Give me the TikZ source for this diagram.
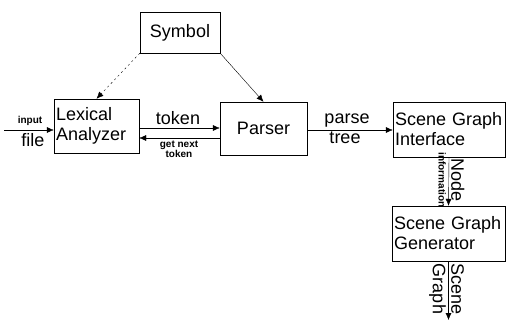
\documentclass[tikz,border=0pt]{standalone}
\usepackage{fontspec}
\setmainfont{Liberation Sans}
\usetikzlibrary{arrows.meta}

\tikzset{
    block/.style={draw, thin, rectangle, inner xsep=2pt, inner ysep=3pt, align=left,
        font=\fontsize{18}{20}\selectfont},
    lbl/.style={inner sep=1pt, font=\fontsize{18}{19}\selectfont},
    tiny/.style={inner sep=1pt, font=\fontsize{10}{10}\selectfont\bfseries}
}

\begin{document}
\begin{tikzpicture}[x=1pt,y=-1pt,>={Latex[length=7pt,width=6pt]}]
    \useasboundingbox (0,0) rectangle (508,323);
    % boxes
    \node[block, minimum width=80pt, minimum height=41pt, align=center] (sym) at (180,32.5) {Symbol};
    \node[block, minimum width=85pt, minimum height=54pt, text width=81pt] (lex) at (96.5,126) {Lexical\\Analyzer};
    \node[block, minimum width=87pt, minimum height=53pt, align=center] (parser) at (263.5,128.5) {Parser};
    \node[block, minimum width=112pt, minimum height=55pt, text width=108pt] (sgi) at (449,129.5) {Scene Graph\\Interface};
    \node[block, minimum width=113pt, minimum height=55pt, text width=109pt] (sgg) at (448.5,233.5) {Scene Graph\\Generator};
    % free ends
    \coordinate (src) at (4,130);
    \coordinate (out) at (448.5,320);
    % connectors
    \draw[->, thin, dash pattern=on 2pt off 3pt] (sym.south west) -- (lex.north);
    \draw[->, thin] (sym.south east) -- (parser.north);
    \draw[->, thin] (src) -- (lex.west |- src);
    \draw[->, thin] (lex.east |- 0,128) -- (parser.west |- 0,128);
    \draw[->, thin] (parser.west |- 0,138) -- (lex.east |- 0,138);
    \draw[->, thin] (parser.east |- 0,130) -- (sgi.west |- 0,130);
    \draw[->, thin] (sgi.south) -- (sgg.north);
    \draw[->, thin] (sgg.south) -- (out);
    % labels
    \node[tiny, anchor=south] at (30,127) {input};
    \node[lbl, anchor=north] at (33,132) {file};
    \node[lbl, anchor=south] at (178,126) {token};
    \node[tiny, anchor=north, align=center] at (179,140) {get next\\token};
    \node[lbl, anchor=south] at (347,128) {parse};
    \node[lbl, anchor=north] at (345,131) {tree};
    \node[lbl, rotate=-90, anchor=south] at (450,180) {Node};
    \node[tiny, rotate=-90, anchor=north] at (447,180) {information};
    \node[lbl, rotate=-90, anchor=south] at (450,289) {Scene};
    \node[lbl, rotate=-90, anchor=north] at (447,289) {Graph};
\end{tikzpicture}
\end{document}
